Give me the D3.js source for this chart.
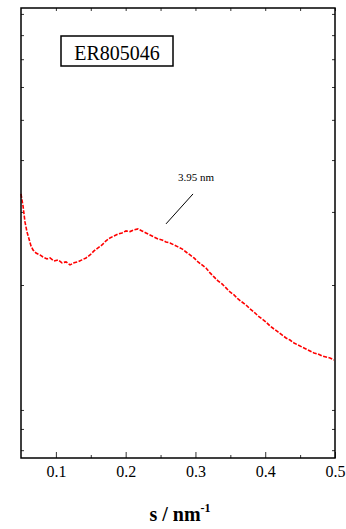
<!DOCTYPE html>
<html>
<head>
<meta charset="utf-8">
<script src="https://cdn.jsdelivr.net/npm/d3@7"></script>
<style>
  html, body { margin: 0; padding: 0; background: #fff; }
  svg { display: block; }
</style>
</head>
<body>
<div id="chart"></div>
<script>
// scattering vector s (nm^-1)
const sValues = [
  0.050, 0.0514, 0.0529, 0.0557, 0.0586, 0.0615, 0.0643, 0.0672, 0.0715, 0.0772,
  0.0815, 0.0873, 0.0916, 0.0973, 0.1030, 0.1088, 0.1145, 0.1202, 0.1260, 0.1317,
  0.1374, 0.1432, 0.1489, 0.1546, 0.1604, 0.1661, 0.1718, 0.1775, 0.1833, 0.1890,
  0.1947, 0.2005, 0.2062, 0.2119, 0.2177, 0.2234, 0.2291, 0.2349, 0.2406, 0.2463,
  0.2521, 0.2578, 0.2635, 0.2693, 0.2750, 0.2807, 0.2865, 0.2922, 0.2979, 0.3037,
  0.3094, 0.3151, 0.3209, 0.3266, 0.3323, 0.3381, 0.3438, 0.3495, 0.3553, 0.3610,
  0.3667, 0.3724, 0.3782, 0.3839, 0.3896, 0.3954, 0.4011, 0.4068, 0.4126, 0.4183,
  0.4240, 0.4298, 0.4355, 0.4412, 0.4470, 0.4527, 0.4584, 0.4642, 0.4699, 0.4756,
  0.4814, 0.4871, 0.4928, 0.4986
];
// intensity (arb. units, log scale)
const intensity = [
  3.315, 3.206, 3.101, 2.838, 2.685, 2.582, 2.484, 2.430, 2.389, 2.363,
  2.337, 2.311, 2.324, 2.286, 2.299, 2.262, 2.274, 2.236, 2.262, 2.274,
  2.299, 2.324, 2.363, 2.416, 2.457, 2.498, 2.555, 2.597, 2.626, 2.655,
  2.670, 2.700, 2.690, 2.715, 2.730, 2.700, 2.670, 2.640, 2.611, 2.582,
  2.568, 2.540, 2.526, 2.498, 2.471, 2.444, 2.402, 2.363, 2.324, 2.274,
  2.236, 2.198, 2.139, 2.092, 2.046, 2.012, 1.968, 1.925, 1.893, 1.851,
  1.820, 1.791, 1.752, 1.722, 1.685, 1.657, 1.629, 1.594, 1.567, 1.542,
  1.516, 1.491, 1.474, 1.450, 1.434, 1.418, 1.403, 1.387, 1.372, 1.364,
  1.349, 1.342, 1.334, 1.320
];

const xMajorTicks = [0.1, 0.2, 0.3, 0.4, 0.5];
const xMinorTicks = [0.15, 0.25, 0.35, 0.45];
const yTicks = [0.8, 0.9, 1, 2, 3, 4, 5, 6, 7, 8, 9];

const sampleLabel = 'ER805046';
const peakLabel = '3.95 nm';
const peakArrow = [[0.2965, 3.315], [0.2578, 2.807]];
const peakTextPos = [0.3008, 3.563];

const serif = 'Liberation Serif, Times New Roman, Times, DejaVu Serif, serif';

const width = 346;
const height = 529;
const margin = {top: 8, right: 11, bottom: 71, left: 21};
const innerW = width - margin.left - margin.right;
const innerH = height - margin.top - margin.bottom;

const svg = d3.select('#chart')
  .append('svg')
  .attr('width', width)
  .attr('height', height)
  .attr('font-family', serif);

const g = svg.append('g')
  .attr('transform', `translate(${margin.left},${margin.top})`);

const x = d3.scaleLinear()
  .domain([0.05, 0.5])
  .range([0, innerW]);

const y = d3.scaleLog()
  .domain([0.766, 9.3])
  .range([innerH, 0]);

// x axis, bottom (major with labels, minor without)
g.append('g')
  .attr('transform', `translate(0,${innerH})`)
  .call(d3.axisBottom(x).tickValues(xMajorTicks).tickSize(-6).tickPadding(8)
    .tickFormat(d3.format('.1f')))
  .selectAll('text')
  .style('font-size', '16px');

g.append('g')
  .attr('transform', `translate(0,${innerH})`)
  .call(d3.axisBottom(x).tickValues(xMinorTicks).tickSize(-3).tickFormat(''));

// x axis, top
g.append('g')
  .call(d3.axisTop(x).tickValues(xMajorTicks.concat(xMinorTicks)).tickSize(-3).tickFormat(''));

// y axes, left and right (no labels)
g.append('g')
  .call(d3.axisLeft(y).tickValues(yTicks).tickSize(-3).tickFormat(''));
g.append('g')
  .attr('transform', `translate(${innerW},0)`)
  .call(d3.axisRight(y).tickValues(yTicks).tickSize(-3).tickFormat(''));

// d3 axes put sans-serif on their groups, drop that
g.selectAll('.domain').remove();
g.selectAll('g').attr('font-family', null);
g.selectAll('.tick line').attr('stroke', '#333').attr('stroke-width', 1);

// data curve
const line = d3.line()
  .x((d, i) => x(sValues[i]))
  .y(d => y(d));

g.append('path')
  .datum(intensity)
  .attr('fill', 'none')
  .attr('stroke', '#ff0000')
  .attr('stroke-width', 1.6)
  .attr('stroke-dasharray', '4,1.5')
  .attr('d', line);

// frame
g.append('rect')
  .attr('width', innerW)
  .attr('height', innerH)
  .attr('fill', 'none')
  .attr('stroke', '#000')
  .attr('stroke-width', 1.5);

// peak annotation
g.append('line')
  .attr('x1', x(peakArrow[0][0]))
  .attr('y1', y(peakArrow[0][1]))
  .attr('x2', x(peakArrow[1][0]))
  .attr('y2', y(peakArrow[1][1]))
  .attr('stroke', '#000')
  .attr('stroke-width', 1);

g.append('text')
  .attr('x', x(peakTextPos[0]))
  .attr('y', y(peakTextPos[1]))
  .attr('text-anchor', 'middle')
  .attr('font-size', 11)
  .text(peakLabel);

// sample label box
g.append('rect')
  .attr('x', 40)
  .attr('y', 28)
  .attr('width', 112)
  .attr('height', 30)
  .attr('fill', '#fff')
  .attr('stroke', '#000')
  .attr('stroke-width', 1.5);

g.append('text')
  .attr('x', 96)
  .attr('y', 52)
  .attr('text-anchor', 'middle')
  .attr('font-size', 20)
  .text(sampleLabel);

// x axis title
const title = svg.append('text')
  .attr('x', 180)
  .attr('y', 521)
  .attr('text-anchor', 'middle')
  .attr('font-size', 20)
  .attr('font-weight', 'bold');
title.append('tspan').text('s / nm');
title.append('tspan')
  .attr('dy', '-9')
  .attr('font-size', 12)
  .text('-1');

svg.selectAll('text').attr('fill', '#000');
</script>
</body>
</html>
